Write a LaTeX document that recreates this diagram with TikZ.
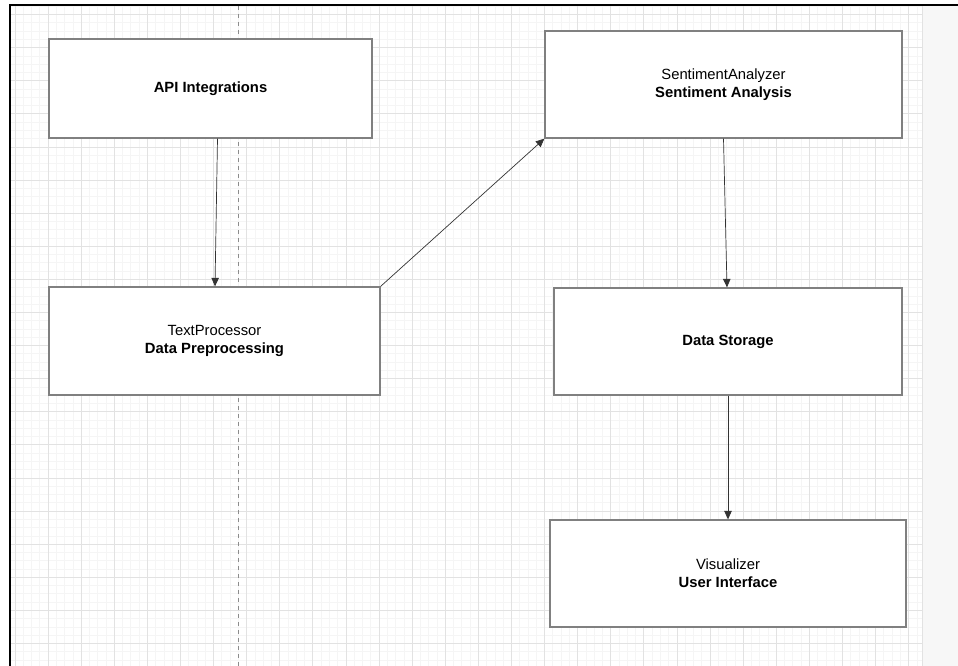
\documentclass[tikz,border=0pt]{standalone}
\usepackage{fontspec}
\setmainfont{Liberation Sans}
\usetikzlibrary{arrows.meta}

\definecolor{minorgrid}{HTML}{F5F5F5}
\definecolor{majorgrid}{HTML}{E2E2E2}
\definecolor{boxline}{HTML}{808080}
\definecolor{sidegray}{HTML}{F7F7F7}

\tikzset{
  block/.style={draw=boxline, line width=1.3pt, fill=white, rectangle,
    align=center, font=\fontsize{14.8}{18}\selectfont},
  flow/.style={draw=black!80, line width=0.7pt, -{Triangle[length=8.5pt,width=7.5pt]}}
}

\begin{document}
\begin{tikzpicture}[x=1pt, y=-1pt]
        \useasboundingbox (0,0) rectangle (958,666);
        % Raster im Hintergrund
        \begin{scope}
            \clip (10,5) rectangle (922,666);
            \foreach \i in {0,...,111} {
                \draw[minorgrid, line width=0.6pt] ({6.6+\i*8.275},5) -- ++(0,661);
            }
            \foreach \i in {0,...,81} {
                \draw[minorgrid, line width=0.6pt] (10,{6.2+\i*8.275}) -- ++(912,0);
            }
            \foreach \i in {0,...,28} {
                \draw[majorgrid, line width=0.8pt] ({14.9+\i*33.1},5) -- ++(0,661);
            }
            \foreach \i in {0,...,20} {
                \draw[majorgrid, line width=0.8pt] (10,{14.5+\i*33.1}) -- ++(912,0);
            }
        \end{scope}
        \fill[sidegray] (922,6) rectangle (958,666);
        \draw[majorgrid, line width=1pt] (922,6) -- (922,666);
        \draw[black!45, line width=0.6pt, dash pattern=on 4pt off 4pt] (238,6) -- (238,666);
        \draw[line width=2pt] (10,666) -- (10,5) -- (958,5); % Rahmen

        % Bloecke
        \node[block, minimum width=323pt, minimum height=99pt] (api) at (210.5,88.5) {\textbf{API Integrations}};
        \node[block, minimum width=357pt, minimum height=107pt] (sent) at (723.5,84.5) {SentimentAnalyzer\\\textbf{Sentiment Analysis}};
        \node[block, minimum width=331pt, minimum height=108pt] (text) at (214.5,341) {TextProcessor\\\textbf{Data Preprocessing}};
        \node[block, minimum width=348pt, minimum height=107pt] (store) at (728,341.5) {\textbf{Data Storage}};
        \node[block, minimum width=356pt, minimum height=107pt] (vis) at (728,573.5) {Visualizer\\\textbf{User Interface}};

        % Verbindungen
        \draw[flow] ([xshift=7pt]api.south) -- ([xshift=0.5pt]text.north);
        \draw[flow] (text.north east) -- (sent.south west);
        \draw[flow] (sent.south) -- ([xshift=-1pt]store.north);
        \draw[flow] (store.south) -- (vis.north);
    \end{tikzpicture}
\end{document}
